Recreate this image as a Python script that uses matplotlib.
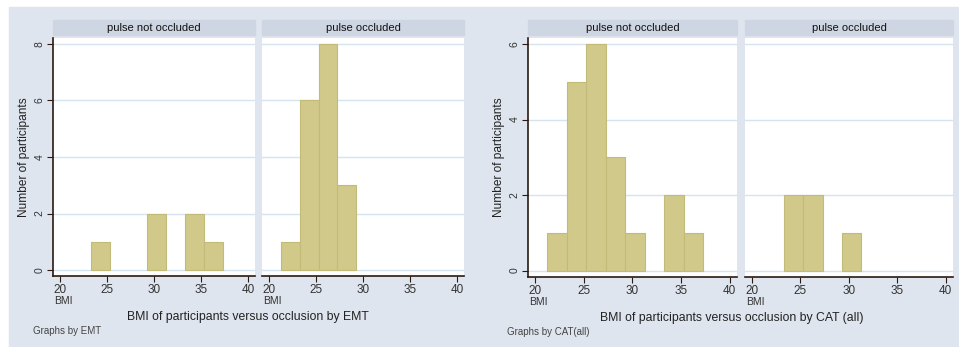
import matplotlib; matplotlib.use('Agg')
import matplotlib.pyplot as plt
from matplotlib.patches import Rectangle

# histogram bins (width 2, starting at 21.3)
edges = [21.3, 23.3, 25.3, 27.3, 29.3, 31.3, 33.3, 35.3, 37.3]
emt_not_occ = [0, 1, 0, 0, 2, 0, 2, 1]
emt_occ     = [1, 6, 8, 3, 0, 0, 0, 0]
cat_not_occ = [1, 5, 6, 3, 1, 0, 2, 1]
cat_occ     = [0, 2, 2, 0, 1, 0, 0, 0]
strip_titles = ["pulse not occluded", "pulse occluded"]
xticks = [20, 25, 30, 35, 40]

plt.rcParams['font.family'] = ['Liberation Sans', 'DejaVu Sans']

BG = '#dfe5ee'; STRIP = '#cfd6e3'; BAR = '#d0c98a'; BAREDGE = '#c2bb78'
GRID = '#d6e4f0'; AXC = '#2a1a12'

W, H = 959, 347
fig = plt.figure(figsize=(W/100, H/100), dpi=100)
fig.patches.append(Rectangle((9/W, 0), 1-9/W, 1-7/H, transform=fig.transFigure,
                             color=BG, zorder=-10))

def px(x0, x1, y0, y1):
    return [x0/W, 1-y1/H, (x1-x0)/W, (y1-y0)/H]

def panel(rect, counts, title, ylim, yticks, first):
    ax = fig.add_axes(rect)
    ax.set_facecolor('white')
    widths = [edges[i+1]-edges[i] for i in range(len(counts))]
    lws = [0.8 if c > 0 else 0 for c in counts]
    ax.bar(edges[:-1], counts, width=widths, align='edge', color=BAR,
           edgecolor=BAREDGE, linewidth=lws, zorder=3)
    ax.set_xlim(19.3, 40.75); ax.set_ylim(*ylim)
    for t in yticks:
        ax.axhline(t, color=GRID, lw=1.0, zorder=1)
    for s in ['top', 'right']:
        ax.spines[s].set_visible(False)
    ax.spines['bottom'].set_color(AXC); ax.spines['bottom'].set_linewidth(1.2)
    ax.set_xticks(xticks)
    ax.set_xticklabels([str(x) for x in xticks], fontsize=8.5, color='#333')
    ax.tick_params(axis='x', length=4, color=AXC, pad=2)
    if first:
        ax.spines['left'].set_color(AXC); ax.spines['left'].set_linewidth(1.2)
        ax.set_yticks(yticks)
        ax.set_yticklabels([str(t) for t in yticks], fontsize=7.5, color='#333',
                           rotation=90, va='center')
        ax.tick_params(axis='y', length=4, color=AXC, pad=2)
    else:
        ax.spines['left'].set_visible(False)
        ax.set_yticks([])
    ax.text(0.005, -0.105, "BMI", transform=ax.transAxes, fontsize=7.5,
            color='#333', ha='left', va='center')
    ax.add_patch(Rectangle((0, 1.012), 1, 0.062, transform=ax.transAxes,
                           color=STRIP, clip_on=False, zorder=5))
    ax.text(0.5, 1.043, title, transform=ax.transAxes, ha='center', va='center',
            fontsize=8, color='#111', zorder=6)
    return ax

# left graph: EMT
a = panel(px(53, 255, 38, 276), emt_not_occ, strip_titles[0], (-0.21, 8.21), [0, 2, 4, 6, 8], True)
a.set_ylabel("Number of participants", fontsize=8.6, color='#222', labelpad=3)
panel(px(262, 464, 38, 276), emt_occ, strip_titles[1], (-0.21, 8.21), [0, 2, 4, 6, 8], False)
fig.text(248/W, 1-317/H, "BMI of participants versus occlusion by EMT", ha='center',
         va='center', fontsize=8.8, color='#222')
fig.text(33/W, 1-331/H, "Graphs by EMT", ha='left', va='center', fontsize=7, color='#444')

# right graph: CAT (all)
b = panel(px(528, 737, 38, 277), cat_not_occ, strip_titles[0], (-0.17, 6.16), [0, 2, 4, 6], True)
b.set_ylabel("Number of participants", fontsize=8.6, color='#222', labelpad=3)
panel(px(745, 953, 38, 277), cat_occ, strip_titles[1], (-0.17, 6.16), [0, 2, 4, 6], False)
fig.text(732/W, 1-318/H, "BMI of participants versus occlusion by CAT (all)", ha='center',
         va='center', fontsize=8.8, color='#222')
fig.text(507/W, 1-332/H, "Graphs by CAT(all)", ha='left', va='center', fontsize=7, color='#444')

plt.savefig("out.png", dpi=100)
